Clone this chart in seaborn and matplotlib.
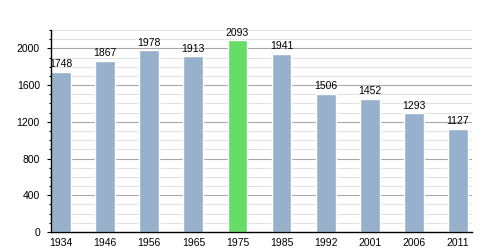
import matplotlib
matplotlib.use("Agg")
import matplotlib.pyplot as plt
from matplotlib.ticker import MultipleLocator
import seaborn as sns
import pandas as pd

years = ["1934", "1946", "1956", "1965", "1975", "1985", "1992", "2001", "2006", "2011"]
population = [1748, 1867, 1978, 1913, 2093, 1941, 1506, 1452, 1293, 1127]
highlight_year = "1975"

sns.set_style("white")
plt.rcParams['font.family'] = ['Liberation Sans', 'DejaVu Sans']
plt.rcParams['text.color'] = 'black'
plt.rcParams['xtick.color'] = 'black'
plt.rcParams['ytick.color'] = 'black'

df = pd.DataFrame({"year": years, "pop": population})
colors = ["#66dd66" if y == highlight_year else "#97b0cb" for y in years]

fig = plt.figure(figsize=(5, 2.5), dpi=100)
ax = fig.add_axes([0.102, 0.072, 0.842, 0.808])
sns.barplot(data=df, x="year", y="pop", hue="year", palette=colors, legend=False,
            width=0.45, ax=ax, saturation=1)

ax.set_ylim(0, 2200)
ax.set_xlim(-0.23, 9.32)
ax.yaxis.set_major_locator(MultipleLocator(400))
ax.yaxis.set_minor_locator(MultipleLocator(100))
ax.grid(which="major", axis="y", color="#a8a8a8", linewidth=0.8)
ax.grid(which="minor", axis="y", color="#e2e2e2", linewidth=0.8)
ax.set_axisbelow(True)
for s in ["top", "right"]:
    ax.spines[s].set_visible(False)
for s in ["left", "bottom"]:
    ax.spines[s].set_color("black")
    ax.spines[s].set_linewidth(1.0)
ax.tick_params(axis="y", which="major", left=True, length=3, width=0.8, labelsize=7.5, pad=5)
ax.tick_params(axis="y", which="minor", left=True, length=1.5, width=0.8)
ax.tick_params(axis="x", bottom=False, labelsize=7.5, pad=1)
ax.set_xlabel("")
ax.set_ylabel("")

for i, v in enumerate(population):
    ax.text(i, v + 25, str(v), ha="center", va="bottom", fontsize=7.5)

fig.savefig("out.png", dpi=100)
